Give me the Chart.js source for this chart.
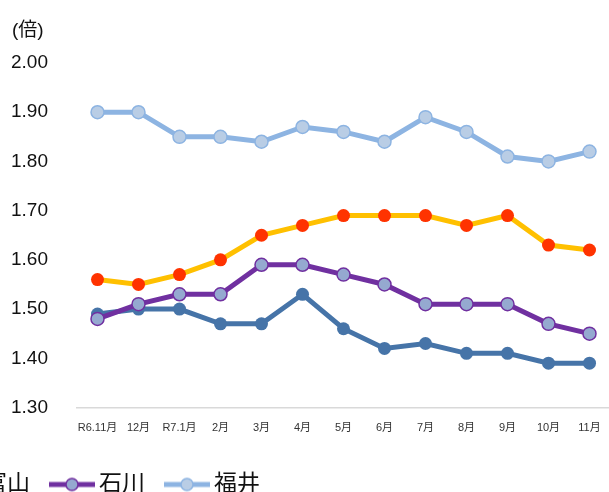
<!DOCTYPE html>
<html>
<head>
<meta charset="utf-8">
<script src="https://cdn.jsdelivr.net/npm/chart.js@4"></script>
<style>
  html, body { margin: 0; padding: 0; width: 609px; height: 492px; overflow: hidden; background: #fff; }
  #wrap { position: relative; width: 609px; height: 492px; overflow: hidden; }
  #myChart { position: absolute; left: -200px; top: 0; }
  #unit { position: absolute; left: 12px; top: 14px; font: 19px "Liberation Sans", "Noto Sans CJK JP", sans-serif; color: #111; }
</style>
</head>
<body>
<div id="wrap">
  <canvas id="myChart" width="818" height="506"></canvas>
  <div id="unit">(倍)</div>
</div>
<script>
const months = ['R6.11月', '12月', 'R7.1月', '2月', '3月', '4月', '5月', '6月', '7月', '8月', '9月', '10月', '11月'];
const zenkoku = [1.56, 1.55, 1.57, 1.60, 1.65, 1.67, 1.69, 1.69, 1.69, 1.67, 1.69, 1.63, 1.62];
const toyama = [1.49, 1.50, 1.50, 1.47, 1.47, 1.53, 1.46, 1.42, 1.43, 1.41, 1.41, 1.39, 1.39];
const ishikawa = [1.48, 1.51, 1.53, 1.53, 1.59, 1.59, 1.57, 1.55, 1.51, 1.51, 1.51, 1.47, 1.45];
const fukui = [1.90, 1.90, 1.85, 1.85, 1.84, 1.87, 1.86, 1.84, 1.89, 1.86, 1.81, 1.80, 1.82];
const seriesNames = ['全国', '富山', '石川', '福井'];
const yTicks = [1.30, 1.40, 1.50, 1.60, 1.70, 1.80, 1.90, 2.00];

const font = '"Liberation Sans", "Noto Sans CJK JP", sans-serif';

// little line+marker swatch for the legend (excel style)
function swatch(lineColor, fill, border) {
    const c = document.createElement('canvas');
    c.width = 46;
    c.height = 16;
    const g = c.getContext('2d');
    g.strokeStyle = lineColor;
    g.lineWidth = 5;
    g.beginPath();
    g.moveTo(0, 8);
    g.lineTo(46, 8);
    g.stroke();
    g.beginPath();
    g.arc(23, 8, 6, 0, Math.PI * 2);
    g.fillStyle = fill;
    g.fill();
    g.lineWidth = 1.5;
    g.strokeStyle = border;
    g.stroke();
    return c;
}

const styles = [
    { line: '#FFC000', fill: '#FF3300', border: '#FF3300' },
    { line: '#4674A8', fill: '#4674A8', border: '#4674A8' },
    { line: '#7030A0', fill: '#95A9D0', border: '#7030A0' },
    { line: '#8DB4E2', fill: '#B9CDE5', border: '#8DB4E2' },
];
const values = [zenkoku, toyama, ishikawa, fukui];

const datasets = seriesNames.map((name, i) => ({
    label: name,
    data: values[i],
    borderColor: styles[i].line,
    backgroundColor: styles[i].fill,
    pointBackgroundColor: styles[i].fill,
    pointBorderColor: styles[i].border,
    pointBorderWidth: i >= 2 ? 1.5 : 0,
    pointRadius: 6.5,
    pointHoverRadius: 6.5,
    borderWidth: 5,
    tension: 0,
    fill: false,
    order: 4 - i,
}));

const swatches = styles.map(s => swatch(s.line, s.fill, s.border));

const ctx = document.getElementById('myChart').getContext('2d');
const myChart = new Chart(ctx, {
    type: 'line',
    data: { labels: months, datasets: datasets },
    options: {
        responsive: false,
        animation: false,
        layout: { padding: { top: 63, left: 0, right: 0, bottom: 0 } },
        plugins: {
            tooltip: { enabled: false },
            legend: {
                position: 'bottom',
                align: 'start',
                labels: {
                    usePointStyle: true,
                    pointStyleWidth: 31,
                    padding: 26.5,
                    color: '#111',
                    font: { family: font, size: 23 },
                    sort: (a, b) => a.datasetIndex - b.datasetIndex,
                    generateLabels: (chart) => {
                        const items = Chart.defaults.plugins.legend.labels.generateLabels(chart);
                        items.forEach(it => { it.pointStyle = swatches[it.datasetIndex]; });
                        return items;
                    },
                },
            },
        },
        scales: {
            x: {
                offset: true,
                grid: { display: false },
                border: { display: true, color: '#D9D9D9', width: 1.5 },
                ticks: { color: '#333', font: { family: font, size: 11 }, padding: 6, maxRotation: 0, autoSkip: false },
                afterFit: (scale) => { scale.height = 39; },
            },
            y: {
                min: yTicks[0],
                max: yTicks[yTicks.length - 1],
                grid: { display: false },
                border: { display: false },
                afterBuildTicks: (scale) => { scale.ticks = yTicks.map(v => ({ value: v })); },
                ticks: {
                    color: '#111',
                    font: { family: font, size: 19 },
                    padding: 21,
                    callback: (v) => Number(v).toFixed(2),
                },
                afterFit: (scale) => { scale.width = 277; },
            },
        },
    },
});
</script>
</body>
</html>
